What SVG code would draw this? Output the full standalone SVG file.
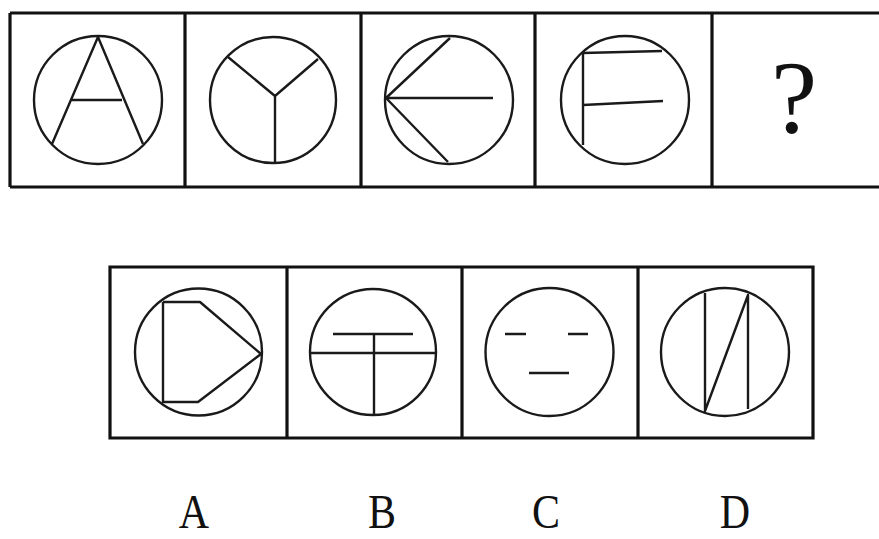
<svg xmlns="http://www.w3.org/2000/svg" width="879" height="539" viewBox="0 0 879 539">
<style>
.frame{fill:none;stroke:#111;stroke-width:3.2}
.c{fill:none;stroke:#1a1a1a;stroke-width:2.4}
.l{fill:none;stroke:#1a1a1a;stroke-width:2.4;stroke-linejoin:round}
.lab{font-family:"Liberation Serif","Times New Roman",serif;fill:#111}
</style>
<rect width="879" height="539" fill="#fff"/>
<g id="top-row">
<path class="frame" d="M10 13H879M10 187H879M10 13V187M185 13V187M361 13V187M535 13V187M712 13V187"/>
</g>
<g id="fig1">
<circle class="c" cx="98" cy="100" r="64"/>
<path class="l" d="M52 144L98 37L143 144M71 100H122"/>
</g>
<g id="fig2">
<circle class="c" cx="273" cy="100" r="63"/>
<path class="l" d="M228 57L275 96L318 59M275 96V163"/>
</g>
<g id="fig3">
<circle class="c" cx="449" cy="100" r="64"/>
<path class="l" d="M450 38L386 98L448 162M386 98H493"/>
</g>
<g id="fig4">
<circle class="c" cx="625" cy="100" r="64"/>
<path class="l" d="M662 51L583 53V145M583 105L663 101"/>
</g>
<g id="fig5">
<text class="lab" x="794" y="133" font-size="104" text-anchor="middle">?</text>
</g>
<g id="bottom-row">
<path class="frame" d="M110 267H813V438H110ZM287 267V438M462 267V438M638 267V438"/>
</g>
<g id="optA">
<circle class="c" cx="198.5" cy="352" r="63.5"/>
<path class="l" d="M163 302V402H198L261 354L200 302H163"/>
</g>
<g id="optB">
<circle class="c" cx="373" cy="352" r="63"/>
<path class="l" d="M310 353H436M333 334H413M374 334V415"/>
</g>
<g id="optC">
<circle class="c" cx="549.5" cy="352" r="64"/>
<path class="l" d="M505 334H526M568 334H588M529 373H569"/>
</g>
<g id="optD">
<circle class="c" cx="725" cy="352" r="64"/>
<path class="l" d="M705 293V411L748 295V409"/>
</g>
<g id="labels" class="lab" font-size="42" text-anchor="middle">
<text transform="translate(194 528) scale(1 1.17)">A</text>
<text transform="translate(382 528) scale(1 1.17)">B</text>
<text transform="translate(546 528) scale(1 1.17)">C</text>
<text transform="translate(735 528) scale(1 1.17)">D</text>
</g>
</svg>
